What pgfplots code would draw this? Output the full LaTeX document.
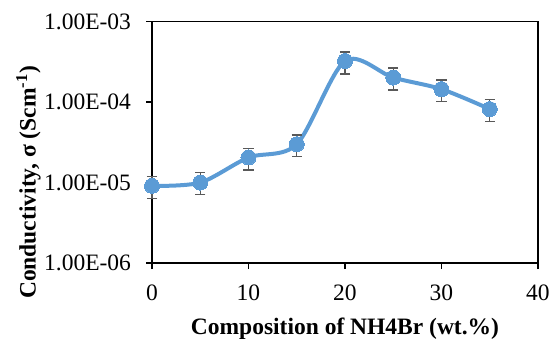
\documentclass[border=0pt]{standalone}
\usepackage{fontspec}
\setmainfont{Liberation Serif}
\usepackage{pgfplots}
\pgfplotsset{compat=1.18}
\definecolor{exblue}{HTML}{5B9BD5}
\definecolor{errgray}{HTML}{595959}
\begin{document}
\begin{tikzpicture}[font=\fontsize{11.75bp}{14bp}\selectfont]
\begin{axis}[
  scale only axis, width=193bp, height=120.65bp,
  ymode=log, xmin=0, xmax=40, ymin=1e-6, ymax=1e-3,
  xtick={0,10,20,30,40}, xticklabels={0,10,20,30,40},
  ytick={1e-6,1e-5,1e-4,1e-3},
  yticklabels={1.00E-06,1.00E-05,1.00E-04,1.00E-03},
  yminorticks=false,
  tick align=outside, xtick pos=bottom, ytick pos=left,
  major tick length=3bp,
  axis line style={line width=0.75bp},
  every tick/.style={black, line width=0.75bp},
  xticklabel style={yshift=-4.5bp},
  yticklabel style={xshift=-4bp},
  xlabel={\textbf{Composition of NH4Br (wt.\%)}},
  ylabel={\textbf{Conductivity, σ (Scm\textsuperscript{-1})}},
  xlabel style={at={(rel axis cs:0.5,0)}, anchor=base, yshift=-35.5bp},
  ylabel style={at={(rel axis cs:0,0.334)}, yshift=61.75bp, anchor=center},
  clip=false,
]
\draw[black, line width=0.75bp] (rel axis cs:0,0) -- (rel axis cs:0,1) -- (rel axis cs:1,1) -- (rel axis cs:1,0) -- cycle;
\addplot[exblue, line width=2bp, smooth, tension=0.5,
  mark=*, mark size=3.75bp, mark options={fill=exblue, draw=exblue, line width=0pt},
  error bars/.cd, y dir=both, y explicit,
  error bar style={errgray, line width=0.7bp},
  error mark options={rotate=90, errgray, mark size=2.6bp, line width=0.7bp}]
coordinates {
(0,9.1e-6) += (0,2.8e-6) -= (0,2.8e-6)
(5,1.0e-5) += (0,3.3e-6) -= (0,2.9e-6)
(10,2.05e-5) += (0,0.62e-5) -= (0,0.62e-5)
(15,3.0e-5) += (0,0.91e-5) -= (0,0.9e-5)
(20,3.25e-4) += (0,0.95e-4) -= (0,1.0e-4)
(25,2.02e-4) += (0,0.64e-4) -= (0,0.6e-4)
(30,1.45e-4) += (0,0.44e-4) -= (0,0.44e-4)
(35,8.2e-5) += (0,2.5e-5) -= (0,2.5e-5)
};
\end{axis}
\pgfresetboundingbox
\path[use as bounding box] ([shift={(-76bp,-39.5bp)}]current axis.south west) rectangle ([shift={(203bp,131.5bp)}]current axis.south west);
\end{tikzpicture}
\end{document}
